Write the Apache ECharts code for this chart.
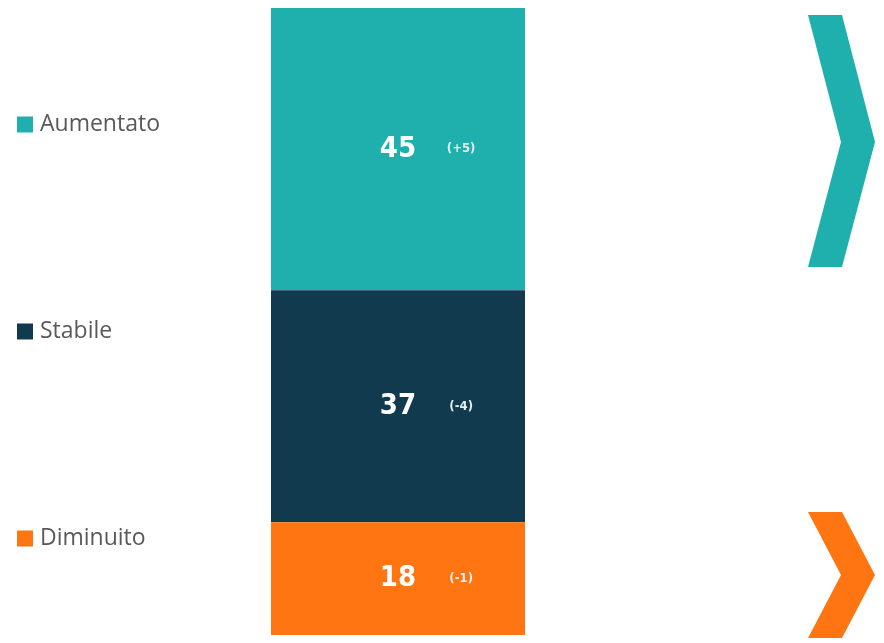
<!DOCTYPE html>
<html>
<head>
<meta charset="utf-8">
<script src="https://cdn.jsdelivr.net/npm/echarts@6/dist/echarts.min.js"></script>
<style>
html,body{margin:0;padding:0;background:#fff;}
#chart{width:884px;height:643px;}
</style>
</head>
<body>
<div id="chart"></div>
<script>
const categories = ['Aumentato', 'Stabile', 'Diminuito'];
const values = [45, 37, 18];
const changes = ['(+5)', '(-4)', '(-1)'];
const colors = ['#1fb0ae', '#113a4e', '#fe7512'];

const numFont = '"DejaVu Sans Condensed", "Liberation Sans Narrow", Inter, sans-serif';

const series = categories.map((name, i) => ({
  name: name,
  type: 'bar',
  stack: 'total',
  barWidth: '100%',
  data: [values[i]],
  itemStyle: { color: colors[i] },
  label: {
    show: true,
    position: 'inside',
    formatter: () => '{pad|}{a|' + values[i] + '}{b|' + changes[i] + '}',
    rich: {
      pad: { width: 60 },
      a: { fontFamily: numFont, fontWeight: 900, fontSize: 29, color: '#ffffff', align: 'center' },
      b: { fontFamily: numFont, fontWeight: 'bold', fontSize: 13, color: '#e6eeee', width: 30, padding: [0, 0, 0, 30] }
    }
  }
}));

const chart = echarts.init(document.getElementById('chart'));
chart.setOption({
  animation: false,
  backgroundColor: '#ffffff',
  grid: { left: 271, width: 254, top: 8, bottom: 8 },
  xAxis: { type: 'category', data: [''], show: false },
  yAxis: { type: 'value', min: 0, max: 100, inverse: true, show: false },
  legend: {
    orient: 'vertical',
    left: 17,
    top: 113,
    padding: 0,
    itemGap: 184,
    itemWidth: 16,
    itemHeight: 16,
    icon: 'rect',
    data: categories,
    textStyle: { fontFamily: '"Open Sans"', fontSize: 23, color: '#595959', padding: [0, 0, 0, 2] }
  },
  graphic: [
    {
      type: 'polygon',
      shape: { points: [[808, 15], [842, 15], [875, 142], [842, 267], [808, 267], [841, 142]] },
      style: { fill: colors[0] }
    },
    {
      type: 'polygon',
      shape: { points: [[808, 512], [842, 512], [875, 575], [842, 638], [808, 638], [841, 575]] },
      style: { fill: colors[2] }
    }
  ],
  series: series
});
</script>
</body>
</html>
